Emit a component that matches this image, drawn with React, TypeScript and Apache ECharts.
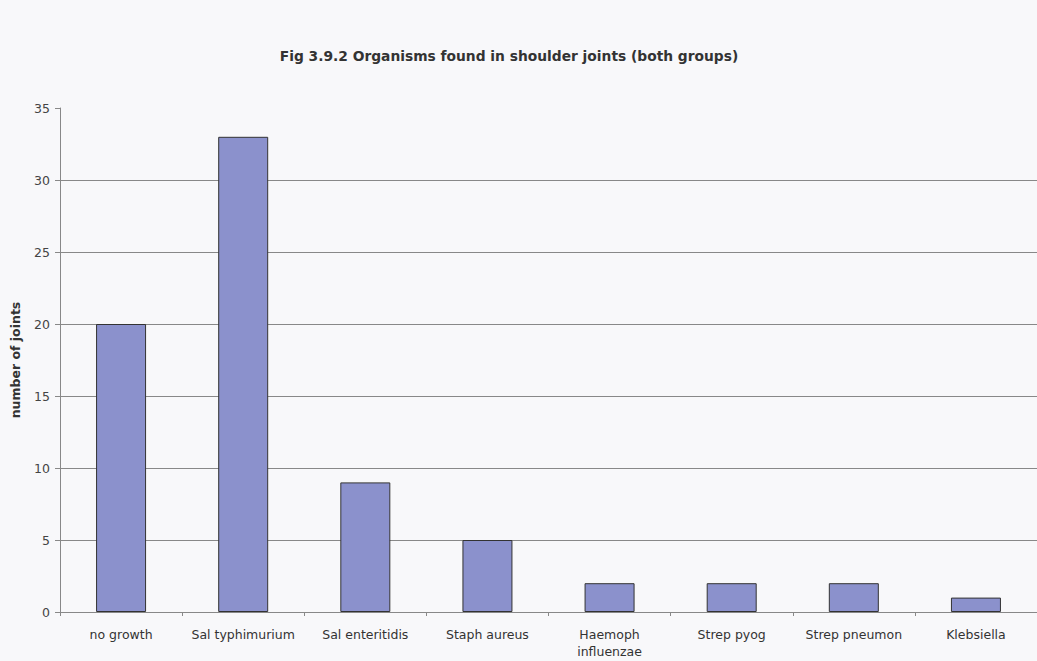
import React, { useEffect, useRef } from "react";
import * as echarts from "echarts";

const categories = [
  "no growth",
  "Sal typhimurium",
  "Sal enteritidis",
  "Staph aureus",
  "Haemoph\ninfluenzae",
  "Strep pyog",
  "Strep pneumon",
  "Klebsiella",
];
const values = [20, 33, 9, 5, 2, 2, 2, 1];
const yTicks = [0, 5, 10, 15, 20, 25, 30, 35];

export default function App() {
  const ref = useRef<HTMLDivElement>(null);
  useEffect(() => {
    if (!ref.current) return;
    const chart = echarts.init(ref.current, undefined, { renderer: "svg" });
    const font = "'DejaVu Sans', Arial, sans-serif";
    chart.setOption({
      animation: false,
      backgroundColor: "#f8f8fa",
      title: {
        text: "Fig 3.9.2 Organisms found in shoulder joints (both groups)",
        left: 504,
        textAlign: "center",
        top: 44,
        textStyle: { fontFamily: font, fontSize: 13.8, fontWeight: "bold", color: "#333" },
      },
      grid: { left: 60, right: -3, top: 108, bottom: 49 },
      xAxis: {
        type: "category",
        data: categories,
        axisLine: { lineStyle: { color: "#888", width: 1 } },
        axisTick: { show: true, length: 4, inside: false, lineStyle: { color: "#888" } },
        axisLabel: {
          fontFamily: font,
          fontSize: 12.5,
          color: "#333",
          margin: 14,
          interval: 0,
          lineHeight: 17,
        },
      },
      yAxis: {
        type: "value",
        min: yTicks[0],
        max: yTicks[yTicks.length - 1],
        interval: 5,
        name: "number of joints",
        nameLocation: "middle",
        nameGap: 38,
        nameRotate: 90,
        nameTextStyle: { fontFamily: font, fontSize: 12.5, fontWeight: "bold", color: "#333" },
        axisLine: { show: true, lineStyle: { color: "#888", width: 1 } },
        axisTick: { show: true, length: 5, lineStyle: { color: "#888" } },
        axisLabel: { fontFamily: font, fontSize: 12.5, color: "#444", margin: 10 },
        splitLine: {
          show: true,
          lineStyle: {
            color: ["#888", "#888", "#888", "#888", "#888", "#888", "#888", "transparent"],
            width: 1,
          },
        },
      },
      series: [
        {
          type: "bar",
          data: values,
          barWidth: 50,
          itemStyle: { color: "#8b91cc", borderColor: "#333", borderWidth: 1 },
        },
      ],
    });
    return () => chart.dispose();
  }, []);
  return (
    <div
      ref={ref}
      style={{ position: "fixed", left: 0, top: 0, width: 1037, height: 661 }}
    />
  );
}
